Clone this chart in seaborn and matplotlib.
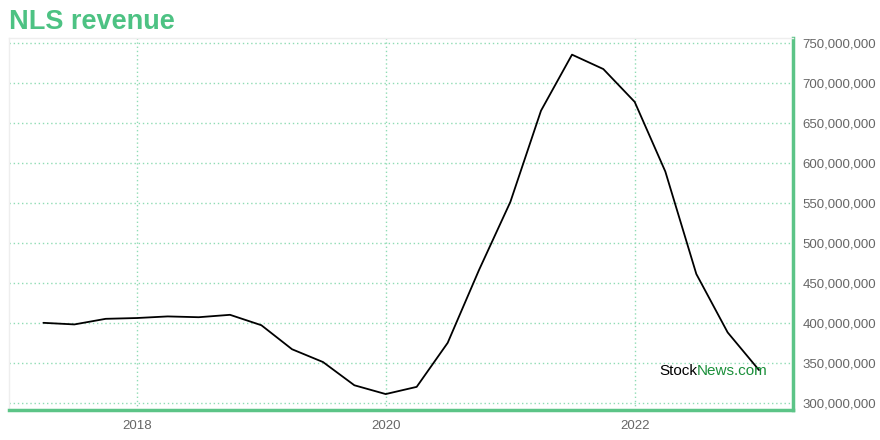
import pandas as pd
import numpy as np
import seaborn as sns
import matplotlib.pyplot as plt
import matplotlib.dates as mdates
from matplotlib.ticker import FuncFormatter

# quarterly revenue
quarters = pd.date_range("2017-03-31", periods=24, freq="QE")
revenue = [400, 398, 405, 406, 408, 407, 410, 397,
           367, 351, 322, 311, 320, 375, 466, 551,
           665, 735, 717, 676, 589, 461, 388, 341]
revenue = [v * 1e6 for v in revenue]

year_ticks = ["2018-01-01", "2020-01-01", "2022-01-01"]
y_ticks = np.arange(300e6, 750e6 + 1, 50e6)

data = pd.DataFrame({"date": quarters, "revenue": revenue})

sns.set_style("white")
plt.rcParams["font.family"] = ["Liberation Sans", "DejaVu Sans"]

fig = plt.figure(figsize=(8.8, 4.4), dpi=100)
ax = fig.add_axes([0.0102, 0.068, 0.891, 0.846])

sns.lineplot(data=data, x="date", y="revenue", color="black", linewidth=1.3, ax=ax)

ax.set_xlim(pd.Timestamp("2016-12-20"), pd.Timestamp("2023-04-10"))
ax.set_ylim(291e6, 756e6)

ax.set_xticks(pd.to_datetime(year_ticks))
ax.xaxis.set_major_formatter(mdates.DateFormatter("%Y"))
ax.set_yticks(y_ticks)
ax.yaxis.set_major_formatter(FuncFormatter(lambda v, p: f"{int(v):,}"))
ax.yaxis.tick_right()

ax.grid(True, color="#8fdcb4", linestyle=(0, (1, 2)), linewidth=1)
ax.tick_params(axis="both", length=0, labelsize=9.5, labelcolor="#666666")
ax.tick_params(axis="y", pad=7)
ax.tick_params(axis="x", pad=7)
ax.set_xlabel("")
ax.set_ylabel("")

for side in ["top", "left"]:
    ax.spines[side].set_color("#eeeeee")
    ax.spines[side].set_linewidth(1)
for side in ["right", "bottom"]:
    ax.spines[side].set_color("#5cc487")
    ax.spines[side].set_linewidth(2.5)

fig.text(0.01, 0.95, "NLS revenue", color="#4dc283", fontsize=19.5, fontweight="bold", va="center")

# watermark
stock = ax.text(0.829, 0.105, "Stock", transform=ax.transAxes, fontsize=11, color="black", va="center")
ax.annotate("News.com", xy=(1, 0.5), xycoords=stock, va="center", ha="left",
            fontsize=11, color="#1a8f3a")

plt.savefig("out.png", dpi=100)
